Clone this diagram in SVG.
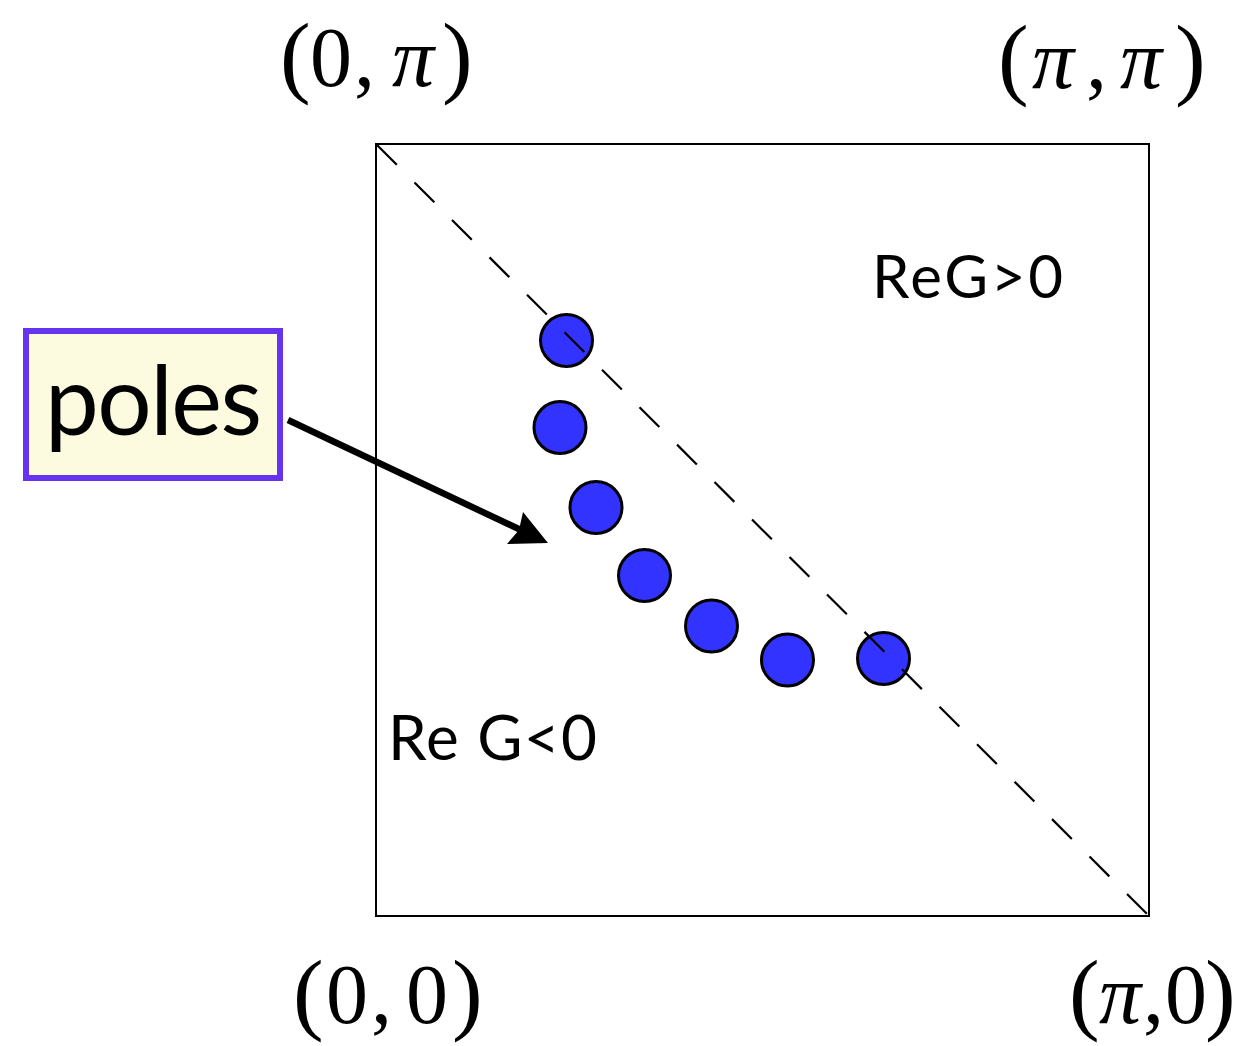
<svg xmlns="http://www.w3.org/2000/svg" width="1255" height="1046" viewBox="0 0 1255 1046">
<style>
.math{font-family:"Liberation Serif",serif;font-size:84px;fill:#000}
.p{font-size:92px}
.i{font-style:italic}
.lbl{font-family:Lato,"Open Sans",sans-serif;fill:#000}
.pole{fill:#3333ff;stroke:#000;stroke-width:3}
</style>
<rect width="1255" height="1046" fill="#fff"/>
<g id="axes">
<rect x="376" y="144" width="773" height="772" fill="none" stroke="#000" stroke-width="2"/>
</g>
<g id="corner-labels">
<text class="math" y="86"><tspan class="p" x="280">(</tspan><tspan x="310">0</tspan><tspan x="354">,</tspan><tspan class="i" x="392">π</tspan><tspan class="p" x="442">)</tspan></text>
<text class="math" y="88"><tspan class="p" x="998">(</tspan><tspan class="i" x="1032">π</tspan><tspan x="1086">,</tspan><tspan class="i" x="1120">π</tspan><tspan class="p" x="1175">)</tspan></text>
<text class="math" y="1023"><tspan class="p" x="293">(</tspan><tspan x="326">0</tspan><tspan x="371">,</tspan><tspan x="406">0</tspan><tspan class="p" x="452">)</tspan></text>
<text class="math" y="1023" font-size="80"><tspan class="p" x="1069" font-size="88">(</tspan><tspan class="i" x="1099">π</tspan><tspan x="1143">,</tspan><tspan x="1165">0</tspan><tspan class="p" x="1205" font-size="88">)</tspan></text>
</g>
<g id="region-labels">
<text class="lbl" x="872" y="298" font-size="60" textLength="191">ReG&gt;0</text>
<text class="lbl" x="388" y="760" font-size="62" textLength="209">Re G&lt;0</text>
</g>
<g id="poles-dots">
<circle class="pole" cx="566.5" cy="340.5" r="26"/>
<circle class="pole" cx="560" cy="427.5" r="26"/>
<circle class="pole" cx="596" cy="507.5" r="26"/>
<circle class="pole" cx="644.5" cy="575.5" r="26"/>
<circle class="pole" cx="711.5" cy="626" r="26"/>
<circle class="pole" cx="787.5" cy="660" r="26"/>
<circle class="pole" cx="883.5" cy="658.5" r="26"/>
</g>
<g id="connectors">
<line x1="377" y1="145" x2="1148" y2="915" stroke="#000" stroke-width="2.2" stroke-dasharray="28 25"/>
<line x1="288" y1="420" x2="525" y2="532" stroke="#000" stroke-width="6.5"/>
<polygon points="548,543 507,544 519,530 523,512" fill="#000"/>
</g>
<g id="poles-label">
<rect x="26" y="331" width="254" height="147" fill="#fcfadf" stroke="#6633ee" stroke-width="6"/>
<text class="lbl" x="45" y="435" font-size="96" textLength="217">poles</text>
</g>
</svg>
